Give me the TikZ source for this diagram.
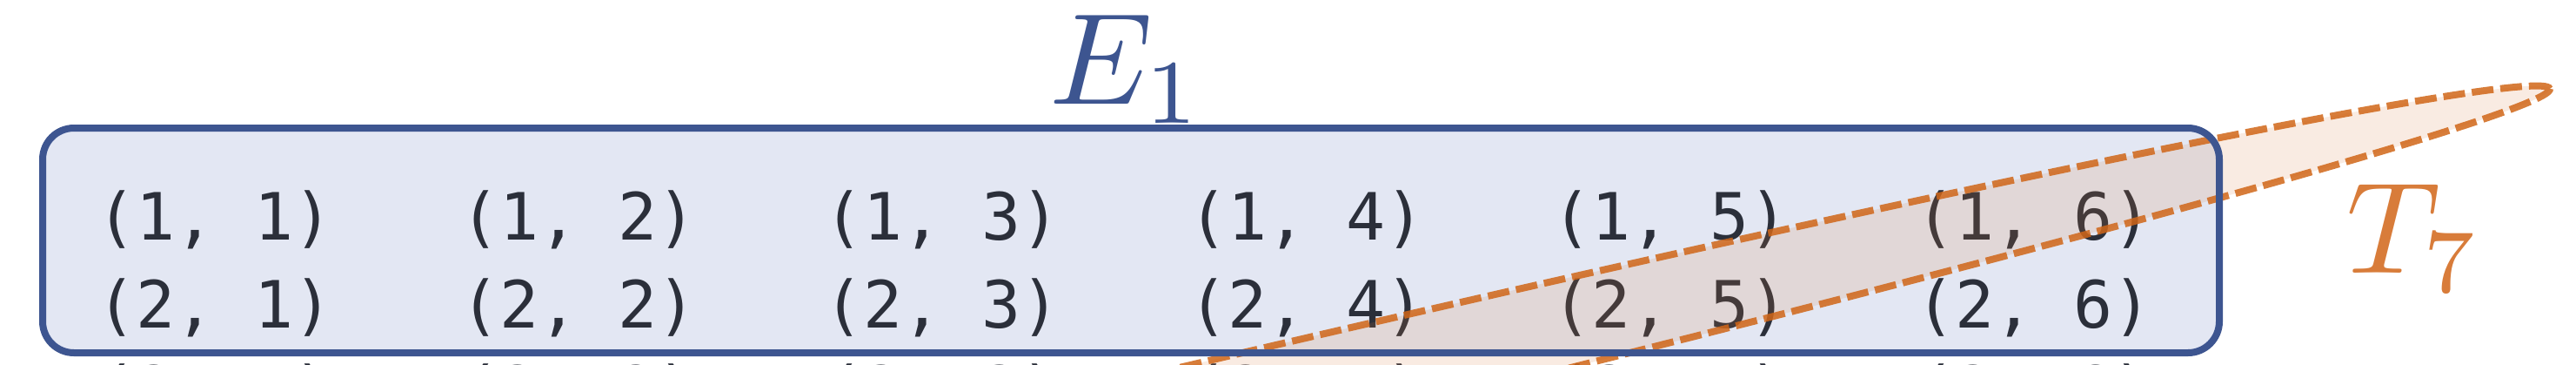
\documentclass[tikz,border=0pt]{standalone}
\usepackage{fontspec}
\newfontfamily\tuplefont{DejaVu Sans Mono}
\definecolor{setblue}{RGB}{61,85,144}
\definecolor{setfill}{RGB}{227,231,243}
\definecolor{tupleink}{RGB}{43,47,58}
\definecolor{torange}{RGB}{216,124,58}
\definecolor{tdash}{RGB}{208,102,24}
\tikzset{
  tuple/.style={anchor=base,inner sep=0pt,text=tupleink,font=\tuplefont\fontsize{21.3}{25}\selectfont},
  setlabel/.style={anchor=base,inner sep=0pt,scale=4.25,font=\fontsize{10}{12}\selectfont}
}
\begin{document}
\begin{tikzpicture}
  \useasboundingbox (0,0) rectangle (29.61,-4.18);
  \clip (0,0) rectangle (29.61,-4.18);

  % Set box fill
  \fill[setfill,rounded corners=0.36cm] (0.49,-1.47) rectangle (25.51,-4.05);

  % Pairs
  \node[tuple] (p11) at (2.47,-2.75) {(1, 1)};
  \node[tuple] (p12) at (6.65,-2.75) {(1, 2)};
  \node[tuple] (p13) at (10.83,-2.75) {(1, 3)};
  \node[tuple] (p14) at (15.02,-2.75) {(1, 4)};
  \node[tuple] (p15) at (19.20,-2.75) {(1, 5)};
  \node[tuple] (p16) at (23.38,-2.75) {(1, 6)};
  \node[tuple] (p21) at (2.47,-3.76) {(2, 1)};
  \node[tuple] (p22) at (6.65,-3.76) {(2, 2)};
  \node[tuple] (p23) at (10.83,-3.76) {(2, 3)};
  \node[tuple] (p24) at (15.02,-3.76) {(2, 4)};
  \node[tuple] (p25) at (19.20,-3.76) {(2, 5)};
  \node[tuple] (p26) at (23.38,-3.76) {(2, 6)};
  \node[tuple] (p31) at (2.47,-4.74) {(3, 1)};
  \node[tuple] (p32) at (6.65,-4.74) {(3, 2)};
  \node[tuple] (p33) at (10.83,-4.74) {(3, 3)};
  \node[tuple] (p34) at (15.02,-4.74) {(3, 4)};
  \node[tuple] (p35) at (19.20,-4.74) {(3, 5)};
  \node[tuple] (p36) at (23.38,-4.74) {(3, 6)};

  % Event ellipse
  \draw[tdash,line width=0.08cm,dash pattern=on 0.25cm off 0.08cm,
        fill=torange,fill opacity=0.15,draw opacity=0.85,
        rotate around={13.4:(11.80,-5.19)}]
    (11.80,-5.19) ellipse [x radius=18, y radius=0.54];

  % Set box border
  \draw[setblue,line width=0.08cm,rounded corners=0.36cm] (0.49,-1.47) rectangle (25.51,-4.05);

  % Labels
  \node[setlabel,text=setblue] (e1) at (12.95,-1.19) {$E_1$};
  \node[setlabel,text=torange] (t7) at (27.75,-3.13) {$T_7$};

\end{tikzpicture}
\end{document}
